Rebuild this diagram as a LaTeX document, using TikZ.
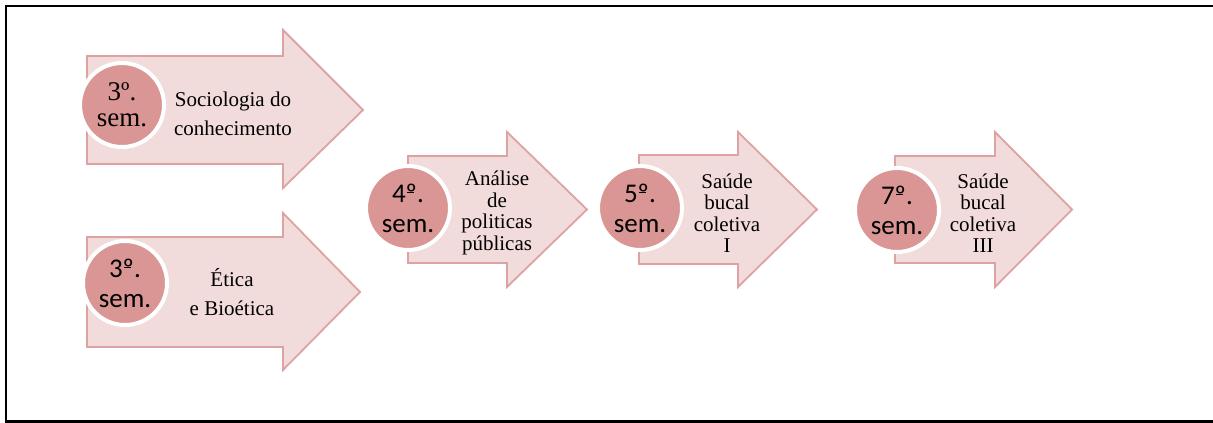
\documentclass[tikz,border=0pt]{standalone}
\usepackage{fontspec}
\setmainfont{Liberation Serif}
\newfontfamily\calfont{Carlito}
\definecolor{arrowfill}{HTML}{F2DCDB}
\definecolor{arrowline}{HTML}{DDA3A2}
\definecolor{circfill}{HTML}{D99694}
\newcommand{\semarrow}[7]{%
  \filldraw[arrowshp] (#1,#2) -- (#4,#2) -- (#4,#5) -- (#7,{(#2+#3)/2}) -- (#4,#6) -- (#4,#3) -- (#1,#3) -- cycle;}
\newcommand{\ordbar}{\makebox[0pt][l]{\hspace{0.05em}\rule[0.33em]{0.27em}{0.055em}}º}
\tikzset{
  arrowshp/.style={fill=arrowfill, draw=arrowline, line width=1.8pt, line join=miter},
  semcirc/.style={circle, fill=circfill, draw=white, line width=4pt, minimum size=84pt, inner sep=0pt, align=center},
  semsans/.style={font=\calfont\fontsize{27}{30}\selectfont},
  semserif/.style={font=\fontsize{27}{26}\selectfont},
  bigtxt/.style={align=center, font=\fontsize{21}{29}\selectfont},
  smalltxt/.style={align=center, font=\fontsize{21}{21.5}\selectfont},
}
\begin{document}
\begin{tikzpicture}[x=1pt,y=-1pt]
\useasboundingbox (0,0) rectangle (1213,423);
\draw[black, line width=2.6pt] (1230,6) -- (6,6) -- (6,421.5) -- (1230,421.5);
% arrows
\semarrow{87}{56}{164}{283}{30}{188}{363}
\semarrow{87}{237}{347}{283}{213}{370}{360}
\semarrow{408}{156}{263}{507}{132}{287}{587}
\semarrow{639}{155}{264}{738}{132}{287}{817}
\semarrow{895}{156}{263}{995}{132}{287}{1072}
% circles
\node[semcirc, semserif] (c1) at (122,105) {3º.\\sem.};
\node[semcirc, semsans] (c2) at (125,283) {3\ordbar.\\sem.};
\node[semcirc, semsans] (c3) at (408,208) {4\ordbar.\\sem.};
\node[semcirc, semsans] (c4) at (640,208) {5\ordbar.\\sem.};
\node[semcirc, semsans] (c5) at (897,210) {7\ordbar.\\sem.};
% texts
\node[bigtxt] (t1) at (233,114) {Sociologia do\\conhecimento};
\node[bigtxt] (t2) at (232,292) {Ética\\e Bioética};
\node[smalltxt] (t3) at (497,213) {Análise\\de\\politicas\\públicas};
\node[smalltxt] (t4) at (727,213) {Saúde\\bucal\\coletiva\\I};
\node[smalltxt] (t5) at (983,213) {Saúde\\bucal\\coletiva\\III};
\end{tikzpicture}
\end{document}
